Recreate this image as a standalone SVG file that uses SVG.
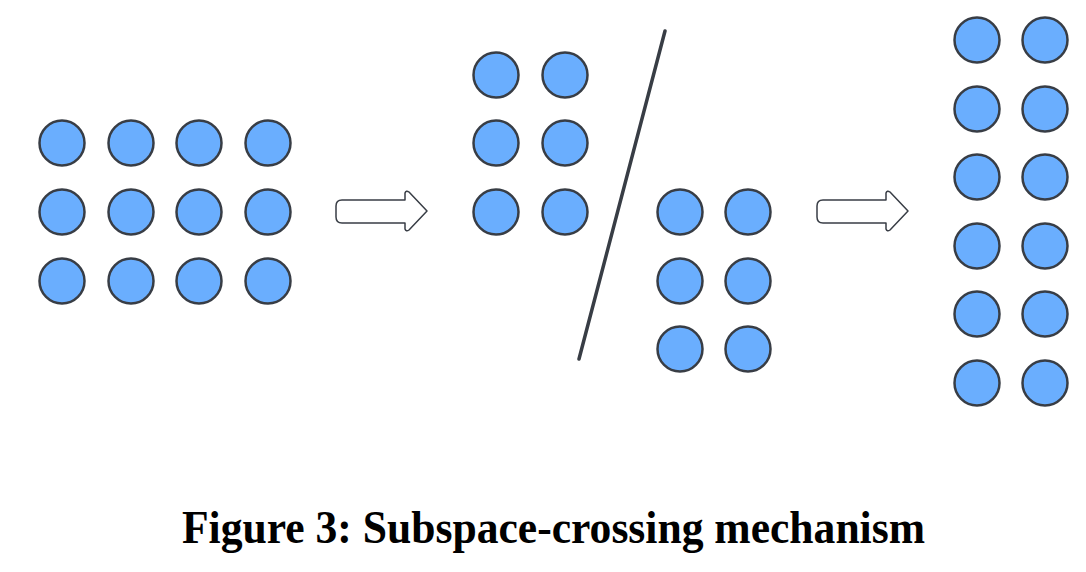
<svg xmlns="http://www.w3.org/2000/svg" width="1086" height="572" viewBox="0 0 1086 572">
<defs>
<style>
.n{fill:#6aaefe;stroke:#383d45;stroke-width:2.5}
.ar{fill:#fff;stroke:#383d45;stroke-width:1.5;stroke-linejoin:round}
.cap{font-family:"Liberation Serif",serif;font-weight:bold;font-size:47px;fill:#000}
</style>
<circle id="c" r="22.5" class="n"/>
<path id="arrow" class="ar" d="M342,200 L405,200 L405,193 Q406,190 409,192 L427,211 L409,230 Q406,232 405,229 L405,223 L342,223 Q336,223 336,217 L336,206 Q336,200 342,200 Z"/>
</defs>
<rect width="1086" height="572" fill="#fff"/>
<g id="grid-left">
<use href="#c" x="62" y="143"/><use href="#c" x="131" y="143"/><use href="#c" x="199" y="143"/><use href="#c" x="268" y="143"/>
<use href="#c" x="62" y="212"/><use href="#c" x="131" y="212"/><use href="#c" x="199" y="212"/><use href="#c" x="268" y="212"/>
<use href="#c" x="62" y="281"/><use href="#c" x="131" y="281"/><use href="#c" x="199" y="281"/><use href="#c" x="268" y="281"/>
</g>
<g id="grid-mid-top">
<use href="#c" x="496" y="75"/><use href="#c" x="565" y="75"/>
<use href="#c" x="496" y="143"/><use href="#c" x="565" y="143"/>
<use href="#c" x="496" y="212"/><use href="#c" x="565" y="212"/>
</g>
<g id="grid-mid-bottom">
<use href="#c" x="680" y="212"/><use href="#c" x="748" y="212"/>
<use href="#c" x="680" y="281"/><use href="#c" x="748" y="281"/>
<use href="#c" x="680" y="349"/><use href="#c" x="748" y="349"/>
</g>
<g id="grid-right">
<use href="#c" x="977" y="40"/><use href="#c" x="1045" y="40"/>
<use href="#c" x="977" y="109"/><use href="#c" x="1045" y="109"/>
<use href="#c" x="977" y="177"/><use href="#c" x="1045" y="177"/>
<use href="#c" x="977" y="246"/><use href="#c" x="1045" y="246"/>
<use href="#c" x="977" y="314"/><use href="#c" x="1045" y="314"/>
<use href="#c" x="977" y="383"/><use href="#c" x="1045" y="383"/>
</g>
<g id="connectors">
<use href="#arrow"/>
<use href="#arrow" x="481"/>
<line id="divider" x1="665" y1="31" x2="579" y2="359" stroke="#383d45" stroke-width="3.5" stroke-linecap="round"/>
</g>
<text class="cap" x="182" y="543" textLength="743" lengthAdjust="spacingAndGlyphs">Figure 3: Subspace-crossing mechanism</text>
</svg>
